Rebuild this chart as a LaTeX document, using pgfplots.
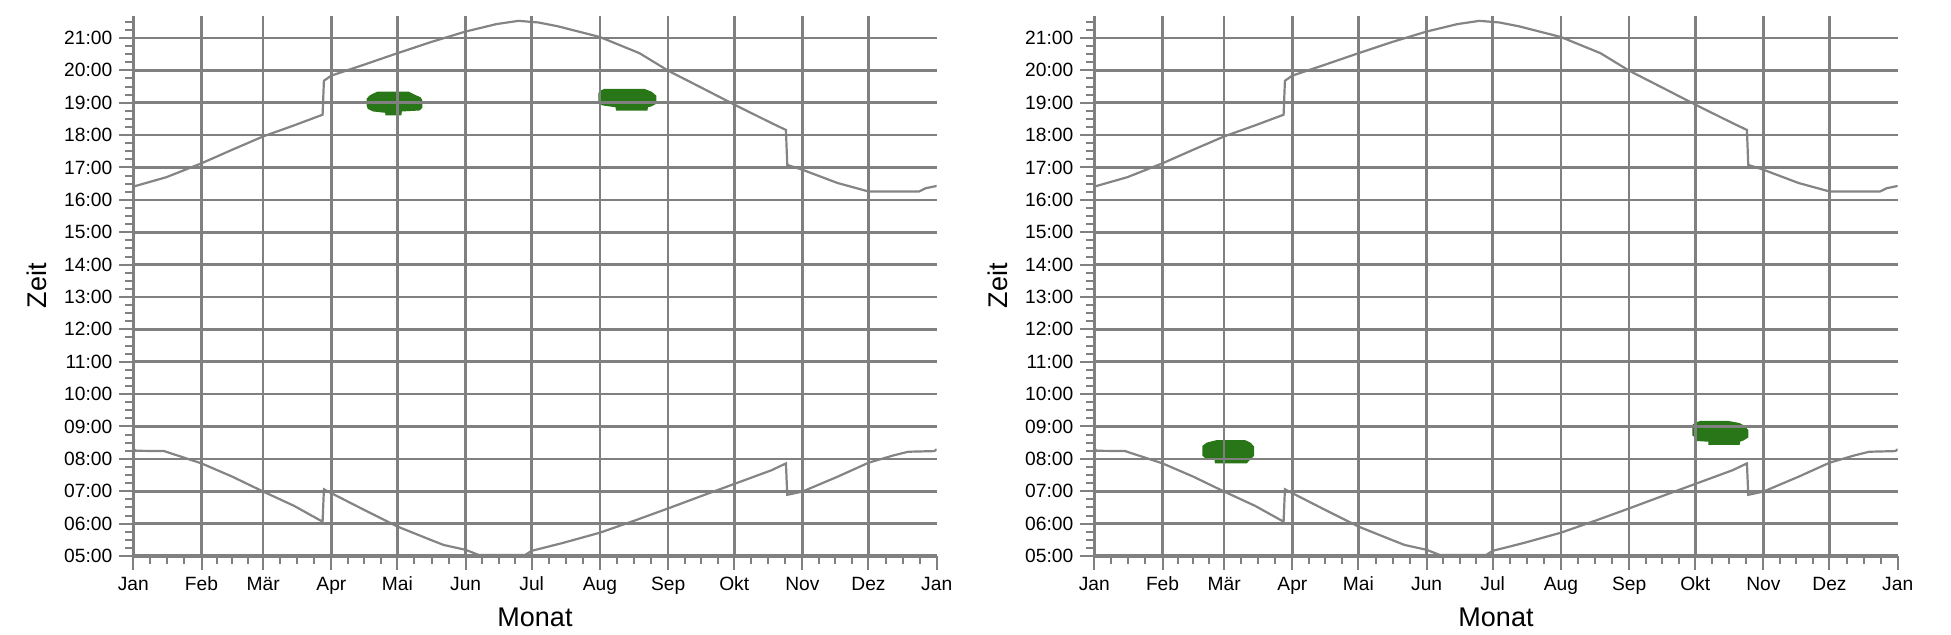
\documentclass[border=0pt]{standalone}
\usepackage{fontspec}
\setmainfont{Liberation Sans}
\usepackage{pgfplots}
\pgfplotsset{compat=1.18}
\usepackage{pgfplotstable}

\pgfplotstableread{
day h
0 16.41
15 16.70
31 17.13
45 17.55
59 17.96
73 18.30
86 18.63
86.6 19.68
90 19.84
105 20.18
120 20.53
135 20.87
151 21.20
165 21.43
175 21.53
184 21.48
193 21.36
212 21.03
230 20.53
243 19.99
260 19.40
274 18.91
290 18.37
296.5 18.16
297.1 17.08
304 16.93
320 16.52
334 16.26
357 16.26
360 16.36
365 16.43
}\sunset

\pgfplotstableread{
day h
0 8.32
1 8.25
14 8.24
31 7.86
45 7.45
59 6.99
73 6.55
86 6.06
86.6 7.06
90 6.94
105 6.42
120 5.91
135 5.50
141 5.34
151 5.19
157 5.03
178 5.03
181 5.16
195 5.40
212 5.72
228 6.10
243 6.47
258 6.85
274 7.25
290 7.65
296.5 7.86
297.1 6.89
304 6.99
320 7.45
334 7.88
345 8.10
352 8.22
364 8.24
365 8.30
}\sunrise

\definecolor{gridgray}{RGB}{128,128,128}
\definecolor{curvegray}{RGB}{132,132,132}
\definecolor{blobgreen}{RGB}{40,118,24}

\pgfplotsset{
  sunaxis/.style={
    scale only axis, width=401.7pt, height=270pt,
    anchor=south west,
    xmin=0, xmax=365, ymin=5, ymax=21.68,
    axis x line=bottom, axis y line=left,
    axis line style={-, gridgray, line width=1.6pt},
    xtick={0,31,59,90,120,151,181,212,243,273,304,334},
    xticklabels={Jan,Feb,Mär,Apr,Mai,Jun,Jul,Aug,Sep,Okt,Nov,Dez},
    extra x ticks={365}, extra x tick labels={Jan},
    extra x tick style={grid=none},
    minor xtick={7.75,15.5,23.25,38,45,52,66.75,74.5,82.25,97.5,105,112.5,127.75,135.5,143.25,158.5,166,173.5,188.75,196.5,204.25,219.75,227.5,235.25,250.5,258,265.5,280.75,288.5,296.25,311.5,319,326.5,341.75,349.5,357.25},
    ytick={5,6,...,21},
    yticklabels={05:00,06:00,07:00,08:00,09:00,10:00,11:00,12:00,13:00,14:00,15:00,16:00,17:00,18:00,19:00,20:00,21:00},
    minor ytick={5.25,5.5,...,21.6},
    grid=major,
    major grid style={gridgray, line width=1.3pt},
    tick style={gridgray, line width=1pt},
    tick align=outside,
    major tick length=7pt, minor tick length=4pt,
    ticklabel style={font=\fontsize{9.6}{11}\selectfont, text=black},
    label style={font=\fontsize{13.5}{16}\selectfont},
    xlabel=Monat, ylabel=Zeit,
    xlabel style={at={(axis description cs:0.5,-0.113)}, anchor=center},
    ylabel style={at={(axis description cs:-0.12,0.5)}, anchor=center},
    axis on top,
  }
}

\begin{document}
\begin{tikzpicture}
\useasboundingbox (0,0) rectangle (975.5pt,317.5pt);
\begin{axis}[sunaxis, at={(66.65pt,39.5pt)}]
\addplot[fill=blobgreen, draw=none] coordinates {(108,19.25)(110.8,19.34)(125.2,19.34)(127.8,19.25)(130.5,19.17)(131.3,19.08)(131.3,18.84)(130,18.76)(122,18.73)(121.8,18.61)(114.6,18.61)(114.4,18.69)(109,18.73)(106.5,18.81)(106,18.92)(106,19.12)(107,19.2)} -- cycle;
\addplot[fill=blobgreen, draw=none] coordinates {(214,19.43)(232.2,19.43)(235.5,19.34)(237.6,19.22)(237.6,18.97)(235.5,18.89)(233.8,18.86)(233.6,18.76)(219.3,18.76)(219.1,18.86)(213,18.92)(211.3,19.0)(211.3,19.30)(212.5,19.38)} -- cycle;
\addplot[curvegray, line width=1.1pt] table[x=day,y=h]{\sunset};
\addplot[curvegray, line width=1.1pt] table[x=day,y=h]{\sunrise};
\end{axis}
\begin{axis}[sunaxis, at={(547.15pt,39.5pt)}]
\addplot[fill=blobgreen, draw=none] coordinates {(55.6,8.58)(68.5,8.58)(71,8.50)(72.6,8.38)(72.6,8.10)(71.5,8.02)(69.2,7.86)(54.8,7.86)(54.6,7.97)(50.3,8.02)(49.1,8.10)(49.1,8.40)(51,8.50)} -- cycle;
\addplot[fill=blobgreen, draw=none] coordinates {(275.2,9.17)(288.1,9.17)(293,9.11)(295.5,9.02)(297.1,8.89)(297.1,8.66)(295,8.57)(293.4,8.53)(293.2,8.43)(279,8.43)(279,8.53)(273.7,8.55)(273.5,8.64)(271.7,8.72)(271.7,9.05)(273,9.12)} -- cycle;
\addplot[curvegray, line width=1.1pt] table[x=day,y=h]{\sunset};
\addplot[curvegray, line width=1.1pt] table[x=day,y=h]{\sunrise};
\end{axis}
\end{tikzpicture}
\end{document}
